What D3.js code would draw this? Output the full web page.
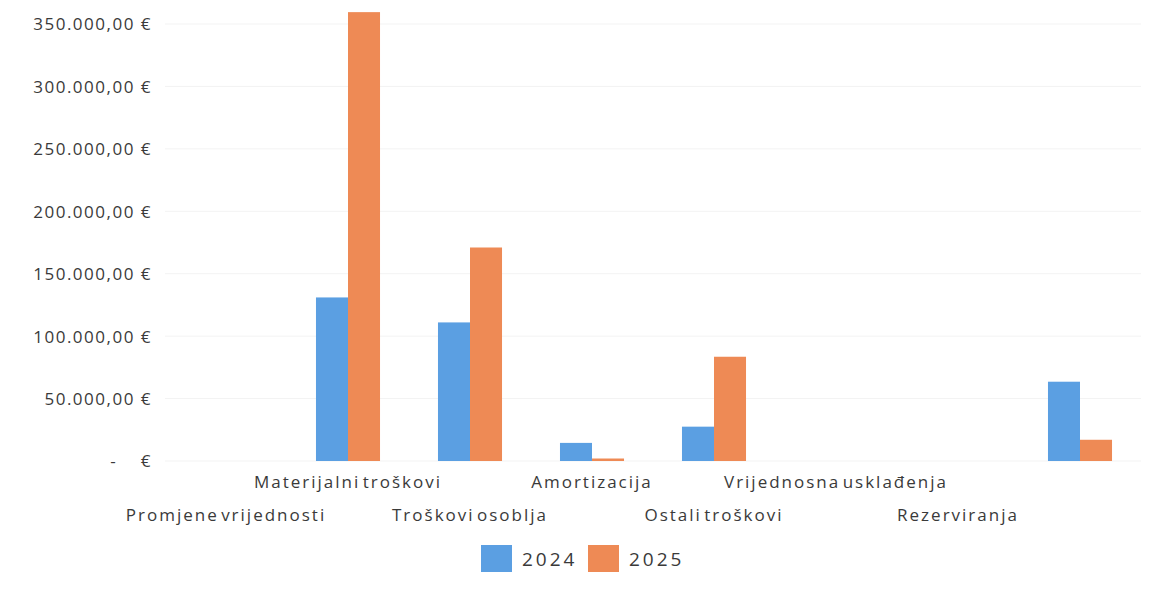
<!DOCTYPE html>
<html>
<head>
<meta charset="utf-8">
<script src="https://cdn.jsdelivr.net/npm/d3@7"></script>
<style>
  body { margin: 0; background: #fff; }
  text { font-family: "Open Sans", sans-serif; fill: #3a3a3a; white-space: pre; }
</style>
</head>
<body>
<svg></svg>
<script>
// data
const categories = [
  "Promjene vrijednosti",
  "Materijalni troškovi",
  "Troškovi osoblja",
  "Amortizacija",
  "Ostali troškovi",
  "Vrijednosna usklađenja",
  "Rezerviranja",
  ""
];
const years = ["2024", "2025"];
const values2024 = [0, 131000, 111000, 14500, 27500, 0, 0, 63500];
const values2025 = [0, 359500, 171000, 2000, 83500, 0, 0, 17000];
const yTicks = [0, 50000, 100000, 150000, 200000, 250000, 300000, 350000];
const colors = ["#5b9fe2", "#ee8a55"];

var width = 1154, height = 601;
var margin = { top: 24, right: 13, bottom: 140, left: 165 };

var svg = d3.select("svg").attr("width", width).attr("height", height);

var x = d3.scaleBand()
  .domain(categories.map(function (d, i) { return i; }))
  .range([margin.left, width - margin.right])
  .paddingInner(0.475)
  .paddingOuter(0.2375);

var xs = d3.scaleBand().domain(years).range([0, x.bandwidth()]);

var y = d3.scaleLinear().domain([0, 350000]).range([461, margin.top]);

function fmt(v) {
  if (v === 0) return "-    €";
  var s = d3.format(",.2f")(v);
  return s.replace(/,/g, "#").replace(".", ",").replace(/#/g, ".") + " €";
}

// gridlines
svg.append("g")
  .selectAll("line")
  .data(yTicks)
  .enter()
  .append("line")
  .attr("x1", margin.left)
  .attr("x2", width - margin.right)
  .attr("y1", function (d) { return y(d); })
  .attr("y2", function (d) { return y(d); })
  .attr("stroke", "#f3f3f3")
  .attr("stroke-width", 1);

// y axis labels
var yAxis = d3.axisLeft(y).tickValues(yTicks).tickFormat(fmt).tickSize(0).tickPadding(0);
var ga = svg.append("g").attr("transform", "translate(152,0)").call(yAxis);
ga.select(".domain").remove();
ga.selectAll("text")
  .style("font-size", "17px")
  .style("letter-spacing", "1.5px")
  .attr("fill", "#3a3a3a")
  .attr("dy", "0.35em");

// bars
var series = [values2024, values2025];
series.forEach(function (vals, si) {
  svg.append("g")
    .selectAll("rect")
    .data(vals)
    .enter()
    .append("rect")
    .attr("x", function (d, i) { return x(i) + xs(years[si]); })
    .attr("y", function (d) { return y(d); })
    .attr("width", xs.bandwidth())
    .attr("height", function (d) { return y(0) - y(d); })
    .attr("fill", colors[si]);
});

// category labels, staggered in two rows
svg.append("g")
  .selectAll("text")
  .data(categories)
  .enter()
  .append("text")
  .attr("x", function (d, i) { return x(i) + x.bandwidth() / 2; })
  .attr("y", function (d, i) { return i % 2 == 1 ? 488 : 521; })
  .attr("text-anchor", "middle")
  .style("font-size", "17px")
  .style("letter-spacing", "2px")
  .style("word-spacing", "-4px")
  .text(function (d) { return d; });

// legend
var lg = svg.append("g").attr("transform", "translate(481,545)");
years.forEach(function (yr, i) {
  lg.append("rect")
    .attr("x", i * 107)
    .attr("y", 0)
    .attr("width", 31)
    .attr("height", 27)
    .attr("fill", colors[i]);
  lg.append("text")
    .attr("x", i * 107 + 41)
    .attr("y", 14)
    .attr("dy", "0.35em")
    .style("font-size", "19px")
    .style("letter-spacing", "3px")
    .text(yr);
});
</script>
</body>
</html>
